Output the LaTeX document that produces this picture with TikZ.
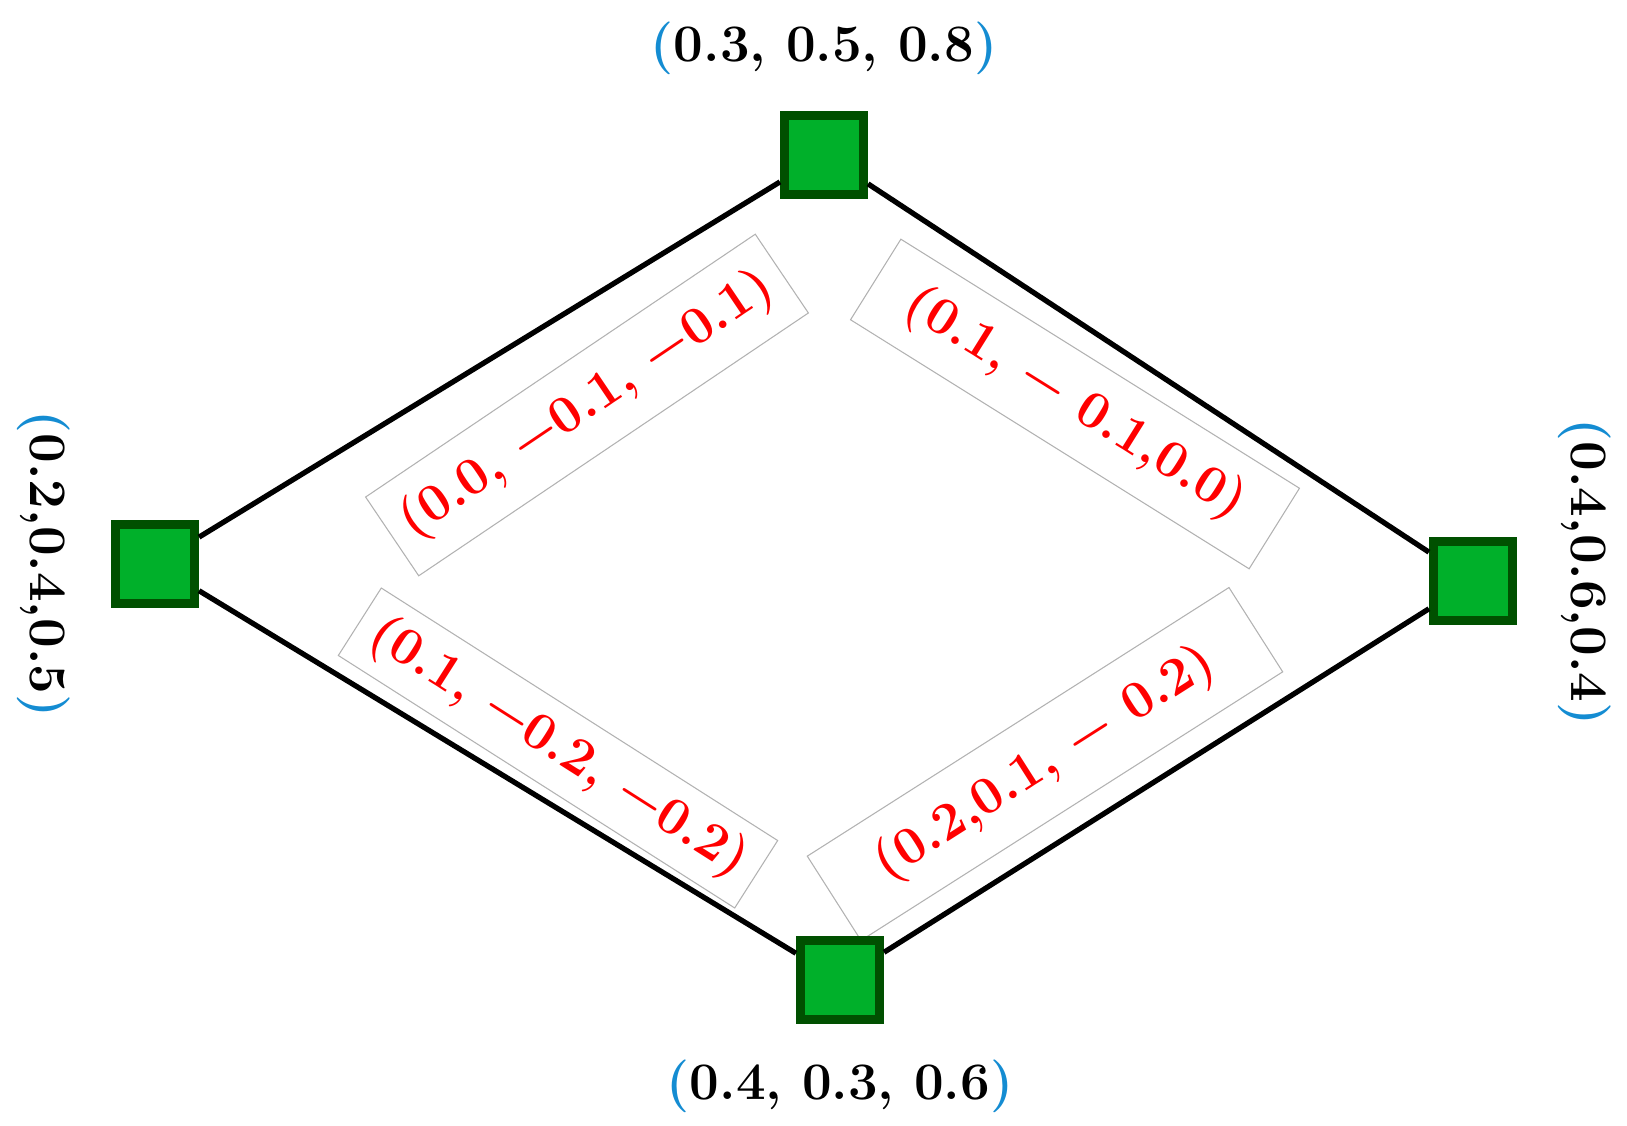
\documentclass[tikz,border=0pt]{standalone}
\usepackage{fontspec}
\usepackage{tikz}
\usetikzlibrary{positioning}
\definecolor{vxGreen}{RGB}{0,176,42}
\definecolor{vxDark}{RGB}{0,80,0}
\definecolor{vxBlue}{RGB}{20,140,210}
\definecolor{wtRed}{RGB}{255,0,0}
\newcommand{\vparen}[1]{\textcolor{vxBlue}{(}#1\textcolor{vxBlue}{)}}
\tikzset{
    base/.style={font=\fontsize{15}{18}\selectfont\bfseries, align=center},
    vertex/.style={rectangle, draw=vxDark, fill=vxGreen, line width=2.6pt,
                   minimum size=0.79cm, inner sep=0pt},
    vlabel/.style={base, text=black, inner sep=0pt},
    weight/.style={base, text=wtRed, draw=gray!60, line width=0.3pt, fill=white,
                   minimum width=4.7cm, minimum height=0.95cm, inner sep=1pt},
    edge/.style={black, line width=1.5pt}
}

\begin{document}
\begin{tikzpicture}
  \useasboundingbox (0,0) rectangle (16.27,-11.26);

  % edge weights
  \node[weight, rotate=34] (wLT) at (5.87,-4.05) {(0.0, −0.1, −0.1)};
  \node[weight, rotate=-32] (wTR) at (10.75,-4.04) {(0.1, − 0.1,0.0)};
  \node[weight, rotate=-32.5, minimum height=0.8cm] (wLB) at (5.58,-7.48) {(0.1, −0.2, −0.2)};
  \node[weight, rotate=32.5, minimum width=5cm, minimum height=1cm] (wBR) at (10.45,-7.64) {(0.2,0.1, − 0.2)};

  % vertices
  \node[vertex] (T) at (8.24,-1.55) {};
  \node[vertex] (L) at (1.55,-5.64) {};
  \node[vertex] (R) at (14.73,-5.81) {};
  \node[vertex] (B) at (8.40,-9.80) {};

  % vertex labels
  \node[vlabel, above=0.35cm of T] (lT) {\vparen{0.3, 0.5, 0.8}};
  \node[vlabel, below=0.35cm of B] (lB) {\vparen{0.4, 0.3, 0.6}};
  \node[vlabel, rotate=-90, anchor=north] (lL) at ([xshift=-0.4cm]L.west) {\vparen{0.2,0.4,0.5}};
  \node[vlabel, rotate=-90, anchor=south] (lR) at ([xshift=0.4cm,yshift=0.09cm]R.east) {\vparen{0.4,0.6,0.4}};

  % edges
  \draw[edge] (L) -- (T) -- (R) -- (B) -- (L);
\end{tikzpicture}
\end{document}
